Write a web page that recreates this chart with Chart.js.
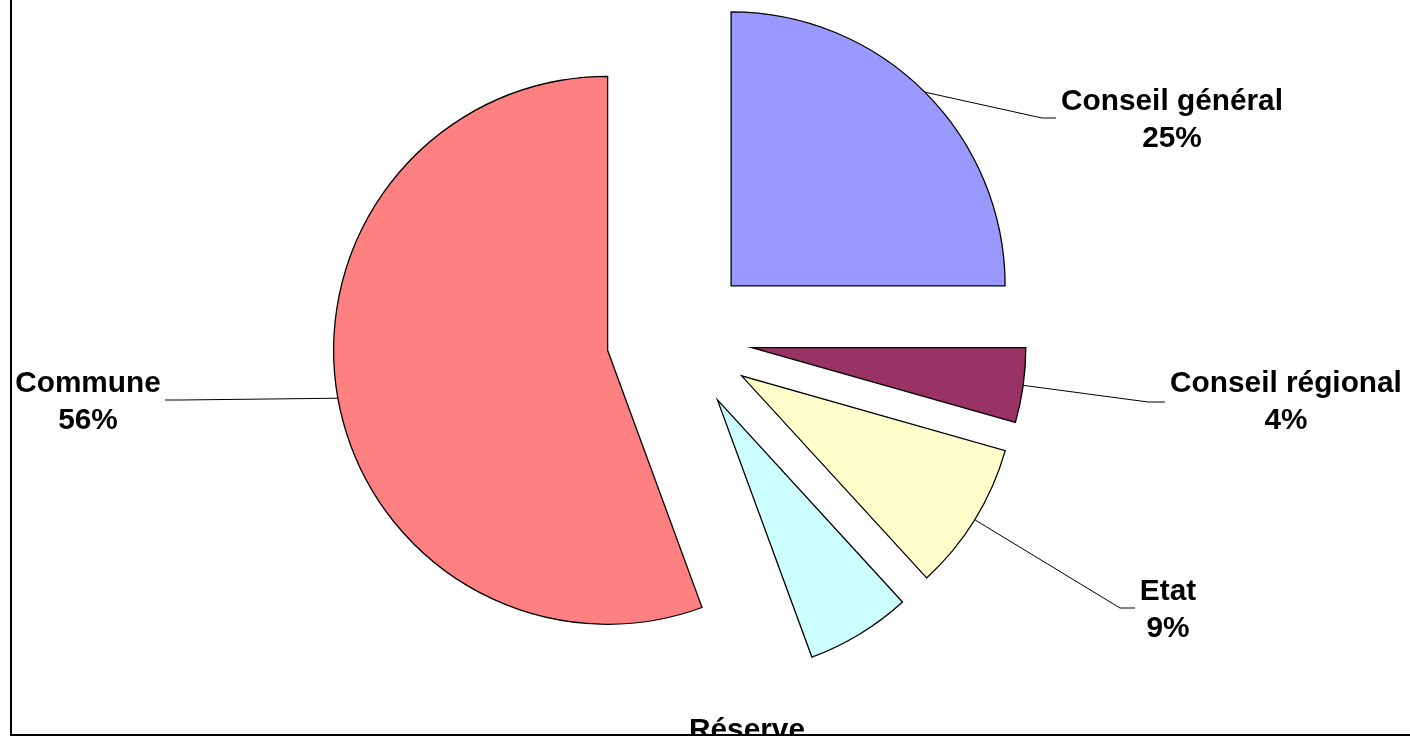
<!DOCTYPE html>
<html>
<head>
<meta charset="utf-8">
<script src="https://cdn.jsdelivr.net/npm/chart.js@4/dist/chart.umd.min.js"></script>
<style>
  html, body { margin: 0; padding: 0; background: #fff; }
  #wrap { width: 1410px; height: 742px; position: relative; }
</style>
</head>
<body>
<div id="wrap"><canvas id="pie"></canvas></div>
<script>
const categories = ['Conseil général', 'Conseil régional', 'Etat', 'Réserve', 'Commune'];
const values = [25.0, 4.4, 8.8, 6.2, 55.6];
const colors = ['#9999FF', '#993366', '#FFFFCC', '#CCFFFF', '#FF8080'];

// where each label sits (center x, first baseline) and its leader bend
const labelSpots = [
  { x: 1172, y: 110, bend: [1042, 118], end: [1056, 118] },
  { x: 1286, y: 392, bend: [1148, 402], end: [1165, 402] },
  { x: 1168, y: 600, bend: [1120, 608], end: [1135, 608] },
  { x: 747, y: 739, bend: null, end: null },
  { x: 88, y: 392, bend: [180, 400], end: [165, 400] }
];

const explode = 73;

const explodePlugin = {
  id: 'explode',
  beforeDatasetsDraw(chart) {
    const a = chart.chartArea;
    const cx = (a.left + a.right) / 2, cy = (a.top + a.bottom) / 2;
    chart.getDatasetMeta(0).data.forEach(arc => {
      const mid = (arc.startAngle + arc.endAngle) / 2;
      arc.x = cx + Math.cos(mid) * explode;
      arc.y = cy + Math.sin(mid) * explode;
    });
  }
};

const labelPlugin = {
  id: 'pieLabels',
  afterDatasetsDraw(chart) {
    const ctx = chart.ctx;
    const total = values.reduce((s, v) => s + v, 0);
    ctx.save();
    ctx.beginPath();
    ctx.rect(0, 0, chart.width, 734);
    ctx.clip();
    chart.getDatasetMeta(0).data.forEach((arc, i) => {
      const spot = labelSpots[i];
      const mid = (arc.startAngle + arc.endAngle) / 2;
      if (spot.bend) {
        ctx.strokeStyle = '#000';
        ctx.lineWidth = 1;
        ctx.beginPath();
        ctx.moveTo(arc.x + Math.cos(mid) * arc.outerRadius, arc.y + Math.sin(mid) * arc.outerRadius);
        ctx.lineTo(spot.bend[0], spot.bend[1]);
        ctx.lineTo(spot.end[0], spot.end[1]);
        ctx.stroke();
      }
      ctx.fillStyle = '#000';
      ctx.font = 'bold 29.8px "Liberation Sans", Arial, sans-serif';
      ctx.textAlign = 'center';
      ctx.textBaseline = 'alphabetic';
      ctx.fillText(categories[i], spot.x, spot.y);
      ctx.fillText(Math.round(values[i] / total * 100) + '%', spot.x, spot.y + 37);
    });
    ctx.restore();
  },
  afterDraw(chart) {
    const ctx = chart.ctx;
    ctx.save();
    ctx.fillStyle = '#000';
    ctx.fillRect(10, 0, 2, 736);
    ctx.fillRect(10, 734, chart.width - 10, 2);
    ctx.restore();
  }
};

new Chart(document.getElementById('pie'), {
  type: 'pie',
  data: {
    labels: categories,
    datasets: [{
      data: values,
      backgroundColor: colors,
      borderColor: '#000',
      borderWidth: 1.3,
      borderJoinStyle: 'miter'
    }]
  },
  options: {
    responsive: true,
    maintainAspectRatio: false,
    animation: false,
    events: [],
    radius: 274,
    layout: { padding: { left: 0, top: 0, right: 51, bottom: 67 } },
    plugins: { legend: { display: false }, tooltip: { enabled: false } }
  },
  plugins: [explodePlugin, labelPlugin]
});
</script>
</body>
</html>
